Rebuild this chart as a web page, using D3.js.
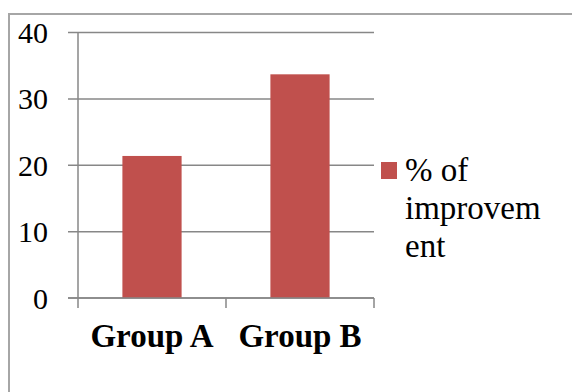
<!DOCTYPE html>
<html>
<head>
<meta charset="utf-8">
<script src="https://cdn.jsdelivr.net/npm/d3@7"></script>
<style>
  body { margin: 0; background: #fff; }
  svg text { font-family: "Liberation Serif", "DejaVu Serif", serif; }
</style>
</head>
<body>
<div id="chart"></div>
<script>
const categories = ["Group A", "Group B"];
const values = [21.4, 33.7];
const yTicks = [0, 10, 20, 30, 40];
const seriesName = ["% of", "improvem", "ent"];

const W = 572, H = 392;
const barColor = "#c0504d";
const gridColor = "#878787";

const svg = d3.select("#chart").append("svg")
    .attr("width", W)
    .attr("height", H);

// outer chart frame (runs off the right and bottom edges)
svg.append("rect")
    .attr("x", 9).attr("y", 14)
    .attr("width", 600).attr("height", 420)
    .attr("fill", "none")
    .attr("stroke", "#a6a6a6")
    .attr("stroke-width", 2);

const x = d3.scaleBand().domain(categories).range([78, 374]).padding(0);
const y = d3.scaleLinear().domain([0, 40]).range([298, 32.5]);

// gridlines + left tick stubs
svg.append("g").selectAll("line")
    .data(yTicks)
    .join("line")
    .attr("x1", 68).attr("x2", 374)
    .attr("y1", d => y(d)).attr("y2", d => y(d))
    .attr("stroke", gridColor)
    .attr("stroke-width", 1.5);

// y tick labels
svg.append("g").selectAll("text")
    .data(yTicks)
    .join("text")
    .attr("x", 48)
    .attr("y", d => y(d))
    .attr("dy", "0.35em")
    .attr("text-anchor", "end")
    .attr("font-size", 30)
    .text(d => d);

// bars
svg.append("g").selectAll("rect")
    .data(values)
    .join("rect")
    .attr("x", (d, i) => x(categories[i]) + x.bandwidth() * 0.3)
    .attr("width", x.bandwidth() * 0.4)
    .attr("y", d => y(d))
    .attr("height", d => y(0) - y(d))
    .attr("fill", barColor);

// y axis line
svg.append("line")
    .attr("x1", 78).attr("x2", 78)
    .attr("y1", y(40)).attr("y2", y(0))
    .attr("stroke", gridColor).attr("stroke-width", 1.5);

// x axis line and ticks between categories
svg.append("line")
    .attr("x1", 68).attr("x2", 374)
    .attr("y1", y(0)).attr("y2", y(0))
    .attr("stroke", gridColor).attr("stroke-width", 1.5);

const xEdges = categories.map(c => x(c)).concat([x(categories[categories.length - 1]) + x.bandwidth()]);
svg.append("g").selectAll("line")
    .data(xEdges)
    .join("line")
    .attr("x1", d => d).attr("x2", d => d)
    .attr("y1", y(0)).attr("y2", y(0) + 10)
    .attr("stroke", gridColor).attr("stroke-width", 1.5);

// category labels
svg.append("g").selectAll("text")
    .data(categories)
    .join("text")
    .attr("x", d => x(d) + x.bandwidth() / 2)
    .attr("y", 347)
    .attr("text-anchor", "middle")
    .attr("font-size", 33)
    .attr("font-weight", "bold")
    .text(d => d);

// legend
const lg = svg.append("g");
lg.append("rect")
    .attr("x", 381).attr("y", 162)
    .attr("width", 16).attr("height", 17)
    .attr("fill", barColor);
lg.append("text")
    .attr("x", 405)
    .attr("font-size", 33)
    .selectAll("tspan")
    .data(seriesName)
    .join("tspan")
    .attr("x", 405)
    .attr("y", (d, i) => 181 + i * 38)
    .text(d => d);
</script>
</body>
</html>
